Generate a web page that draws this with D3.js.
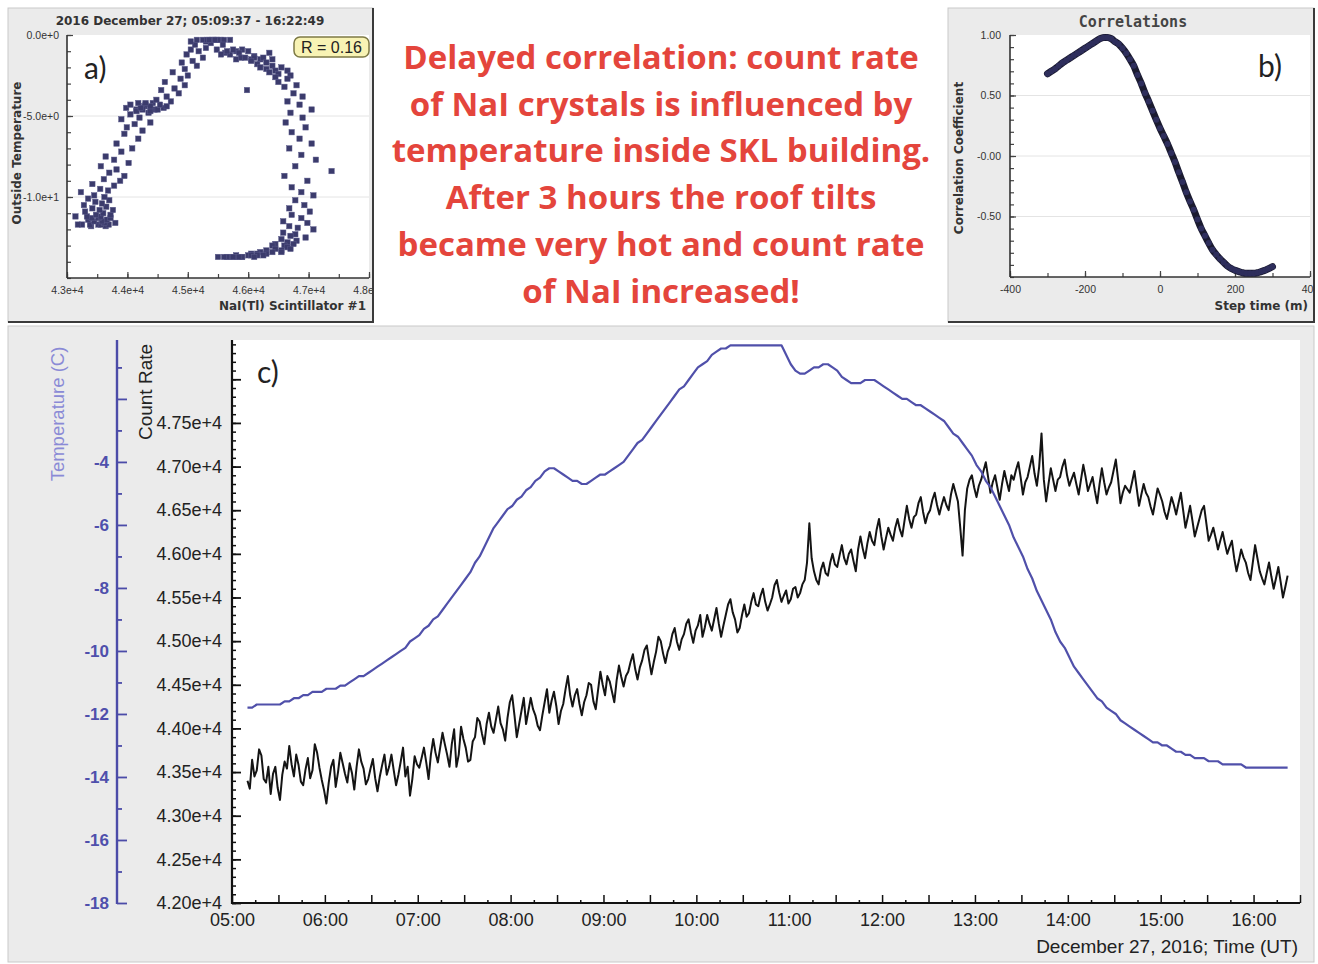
<!DOCTYPE html>
<html>
<head>
<meta charset="utf-8">
<script src="https://cdn.jsdelivr.net/npm/d3@7"></script>
<style>
  html, body { margin: 0; padding: 0; background: #ffffff; }
  svg { display: block; }
</style>
</head>
<body>
<svg id="fig" width="1318" height="964"></svg>
<script>
// ---------------------------------------------------------------------------
// NaI(Tl) scintillator count rate and outside temperature, 27 Dec 2016 (UT).
// Count rate every 1.5 minutes, temperature every 3 minutes, from 05:10.
// ---------------------------------------------------------------------------
const sampleStart = 10;     // minutes after 05:00 UT
const countStep = 1.5;      // minutes between count-rate samples
const tempStep = 3;         // minutes between temperature samples

const countRate = [
  43400, 43310, 43640, 43450, 43520, 43760, 43690, 43420, 43380, 43560, 43250, 43480, 43560, 43320, 43180, 43470, 43620, 43540, 43800, 43590,
  43450, 43700, 43580, 43390, 43350, 43530, 43660, 43430, 43520, 43820, 43720, 43550, 43410, 43290, 43140, 43380, 43560, 43640, 43330, 43500,
  43720, 43600, 43480, 43380, 43600, 43490, 43300, 43560, 43760, 43620, 43540, 43360, 43420, 43540, 43650, 43430, 43280, 43450, 43580, 43700,
  43470, 43560, 43700, 43520, 43350, 43470, 43620, 43780, 43450, 43560, 43230, 43420, 43680, 43590, 43550, 43660, 43780, 43610, 43420, 43700,
  43880, 43720, 43610, 43780, 43950, 43820, 43700, 43560, 43820, 43990, 43560, 43700, 44020, 43880, 43780, 43620, 43640, 43850, 43900, 44120,
  44080, 43940, 43820, 44050, 44180, 44020, 43950, 44100, 44250, 44060, 43990, 43860, 44120, 44300, 44380, 44150, 43900, 44050, 44200, 44350,
  44050, 44200, 44350, 44220, 44150, 44030, 43980, 44150, 44300, 44450, 44180, 44320, 44420, 44260, 44050, 44200, 44280, 44450, 44600, 44380,
  44250, 44380, 44450, 44280, 44150, 44300, 44380, 44520, 44500, 44310, 44220, 44440, 44650, 44500, 44380, 44600, 44540, 44420, 44300, 44550,
  44720, 44590, 44480, 44600, 44650, 44760, 44850, 44680, 44560, 44700, 44780, 44900, 44950, 44780, 44620, 44760, 44880, 45050, 45000, 44860,
  44750, 44880, 44950, 45080, 45150, 44990, 44900, 45020, 45080, 45200, 45250, 45100, 44980, 45120, 45180, 45300, 45050, 45160, 45300, 45200,
  45120, 45250, 45380, 45200, 45050, 45180, 45300, 45420, 45480, 45330, 45250, 45100, 45150, 45300, 45420, 45280, 45320, 45450, 45550, 45420,
  45400, 45520, 45600, 45450, 45350, 45420, 45500, 45640, 45700, 45560, 45450, 45520, 45580, 45430, 45480, 45600, 45620, 45500, 45550, 45650,
  45700, 45900, 46350, 45950, 45800, 45700, 45650, 45820, 45900, 45780, 45750, 45900, 46000, 45880, 45850, 45980, 46100, 45950, 45880, 46000,
  46050, 45920, 45800, 46050, 46200, 46060, 45950, 46120, 46250, 46150, 46100, 46280, 46400, 46200, 46050, 46180, 46300, 46220, 46150, 46300,
  46400, 46280, 46200, 46380, 46550, 46400, 46300, 46420, 46450, 46580, 46650, 46480, 46350, 46450, 46500, 46620, 46700, 46560, 46450, 46560,
  46650, 46560, 46500, 46680, 46800, 46700, 46600, 46300, 45980, 46500, 46750, 46850, 46900, 46760, 46650, 46780, 46850, 46950, 47050, 46880,
  46700, 46820, 46900, 46760, 46620, 46800, 46950, 46830, 46720, 46900, 46850, 46960, 47050, 46880, 46680, 46820, 46880, 47000, 47120, 46920,
  46780, 47000, 47380, 46850, 46600, 46800, 46980, 46850, 46720, 46850, 46880, 47000, 47080, 46900, 46780, 46860, 46930, 46800, 46680, 46850,
  47020, 46880, 46720, 46800, 46880, 46720, 46580, 46800, 46980, 46820, 46680, 46760, 46820, 46950, 47080, 46850, 46580, 46700, 46780, 46740,
  46700, 46820, 46950, 46750, 46550, 46680, 46800, 46700, 46650, 46540, 46450, 46600, 46750, 46680, 46600, 46480, 46400, 46520, 46650, 46560,
  46450, 46580, 46700, 46500, 46300, 46420, 46550, 46380, 46200, 46300, 46400, 46500, 46550, 46350, 46150, 46220, 46300, 46180, 46050, 46150,
  46250, 46120, 46000, 46080, 46150, 45950, 45800, 45920, 46050, 45960, 45900, 45780, 45700, 45900, 46100, 45950, 45800, 45720, 45650, 45780,
  45900, 45740, 45600, 45720, 45850, 45680, 45500, 45620, 45750
];

const temperature = [
  -11.8, -11.8, -11.7, -11.7, -11.7, -11.7, -11.7, -11.7, -11.6, -11.6,
  -11.5, -11.5, -11.4, -11.4, -11.3, -11.3, -11.3, -11.2, -11.2, -11.2,
  -11.1, -11.1, -11.0, -10.9, -10.8, -10.8, -10.7, -10.6, -10.5, -10.4,
  -10.3, -10.2, -10.1, -10.0, -9.9, -9.7, -9.6, -9.5, -9.3, -9.2,
  -9.0, -8.9, -8.7, -8.5, -8.3, -8.1, -7.9, -7.7, -7.5, -7.2,
  -7.0, -6.7, -6.4, -6.1, -5.9, -5.7, -5.5, -5.4, -5.2, -5.1,
  -4.9, -4.8, -4.6, -4.5, -4.3, -4.2, -4.2, -4.3, -4.4, -4.5,
  -4.6, -4.6, -4.7, -4.7, -4.6, -4.5, -4.4, -4.4, -4.3, -4.2,
  -4.1, -4.0, -3.8, -3.6, -3.4, -3.3, -3.1, -2.9, -2.7, -2.5,
  -2.3, -2.1, -1.9, -1.7, -1.6, -1.4, -1.2, -1.0, -0.9, -0.8,
  -0.6, -0.5, -0.4, -0.4, -0.3, -0.3, -0.3, -0.3, -0.3, -0.3,
  -0.3, -0.3, -0.3, -0.3, -0.3, -0.3, -0.6, -0.9, -1.1, -1.2,
  -1.2, -1.1, -1.0, -1.0, -0.9, -0.9, -1.0, -1.1, -1.3, -1.4,
  -1.5, -1.5, -1.5, -1.4, -1.4, -1.4, -1.5, -1.6, -1.7, -1.8,
  -1.9, -2.0, -2.0, -2.1, -2.2, -2.2, -2.3, -2.4, -2.5, -2.6,
  -2.7, -2.9, -3.1, -3.2, -3.4, -3.6, -3.8, -4.1, -4.3, -4.6,
  -4.8, -5.1, -5.4, -5.7, -6.0, -6.4, -6.7, -7.0, -7.4, -7.7,
  -8.1, -8.4, -8.7, -9.0, -9.4, -9.7, -9.9, -10.2, -10.5, -10.7,
  -10.9, -11.1, -11.3, -11.5, -11.6, -11.8, -11.9, -12.0, -12.2, -12.3,
  -12.4, -12.5, -12.6, -12.7, -12.8, -12.9, -12.9, -13.0, -13.0, -13.1,
  -13.2, -13.2, -13.3, -13.3, -13.4, -13.4, -13.4, -13.5, -13.5, -13.5,
  -13.6, -13.6, -13.6, -13.6, -13.6, -13.7, -13.7, -13.7, -13.7, -13.7,
  -13.7, -13.7, -13.7, -13.7, -13.7
];

// Lagged correlation between count rate and temperature (lag step 10 min)
const lagMinutes = d3.range(-300, 301, 10);
const correlation = [
  0.68, 0.70, 0.72, 0.745, 0.77, 0.79, 0.81, 0.83, 0.85, 0.87, 0.89, 0.91, 0.93, 0.95, 0.97,
  0.98, 0.98, 0.97, 0.945, 0.925, 0.89, 0.85, 0.80, 0.745, 0.67, 0.60, 0.52, 0.45, 0.375, 0.30,
  0.23, 0.165, 0.10, 0.025, -0.05, -0.135, -0.215, -0.30, -0.375, -0.445, -0.525, -0.60, -0.66, -0.72, -0.775,
  -0.815, -0.85, -0.88, -0.91, -0.93, -0.945, -0.955, -0.965, -0.97, -0.97, -0.97, -0.965, -0.955, -0.945, -0.93, -0.915
];
const correlationR = "R = 0.16";

// Tick values and labels
const hourLabels = ["05:00", "06:00", "07:00", "08:00", "09:00", "10:00", "11:00",
                    "12:00", "13:00", "14:00", "15:00", "16:00"];
const countTickValues = [42000, 42500, 43000, 43500, 44000, 44500, 45000, 45500, 46000, 46500, 47000, 47500, 48000];
const countTickLabels = ["4.20e+4", "4.25e+4", "4.30e+4", "4.35e+4", "4.40e+4", "4.45e+4", "4.50e+4",
                         "4.55e+4", "4.60e+4", "4.65e+4", "4.70e+4", "4.75e+4", ""];
const tempTickValues = [-18, -16, -14, -12, -10, -8, -6, -4, -2];
const tempTickLabels = ["-18", "-16", "-14", "-12", "-10", "-8", "-6", "-4", ""];
const scatterXTicks = [43000, 44000, 45000, 46000, 47000, 48000];
const scatterXLabels = ["4.3e+4", "4.4e+4", "4.5e+4", "4.6e+4", "4.7e+4", "4.8e+4"];
const scatterYTicks = [0, -5, -10];
const scatterYLabels = ["0.0e+0", "-5.0e+0", "-1.0e+1"];
const corrXTicks = [-400, -200, 0, 200, 400];
const corrXLabels = ["-400", "-200", "0", "200", "400"];
const corrYTicks = [1, 0.5, 0, -0.5];
const corrYLabels = ["1.00", "0.50", "-0.00", "-0.50"];

const noteLines = [
  "Delayed correlation: count rate",
  "of NaI crystals is influenced by",
  "temperature inside SKL building.",
  "After 3 hours the roof tilts",
  "became very hot and count rate",
  "of NaI increased!"
];

// ---------------------------------------------------------------------------
const countSeries = countRate.map((c, i) => ({ m: sampleStart + i * countStep, c: c }));
const tempSeries = temperature.map((t, i) => ({ m: sampleStart + i * tempStep, t: t }));
// scatter pairs: temperature with the count-rate sample taken at the same time
const pairs = temperature.map((t, i) => ({ c: countRate[i * (tempStep / countStep)], t: t }));

const svg = d3.select("#fig");
const SANS = "'Liberation Sans', Arial, sans-serif";
const DIALOG = "'DejaVu Sans', Verdana, sans-serif";
const PANEL_BG = "#ebebeb";

function labelAxis(g, o) {
  g.select(".domain").remove();
  g.selectAll(".tick line").attr("stroke", o.stroke).attr("stroke-width", o.width || 1);
  g.selectAll(".tick text")
    .attr("fill", o.fill || o.stroke)
    .attr("font-size", o.size || 10)
    .attr("font-family", o.family || SANS)
    .attr("font-weight", o.weight || "normal");
}

function panelFrame(x, y, w, h) {
  svg.append("rect").attr("x", x).attr("y", y).attr("width", w).attr("height", h)
    .attr("fill", PANEL_BG).attr("stroke", "#c9c9c9").attr("stroke-width", 1);
}

// ======================= Panel a: scatter ================================
panelFrame(8, 8, 365, 314);
svg.append("defs").append("clipPath").attr("id", "clipA")
  .append("rect").attr("x", 8).attr("y", 8).attr("width", 364).attr("height", 314);
const pa = svg.append("g").attr("clip-path", "url(#clipA)");

const ax = d3.scaleLinear().domain([43000, 48000]).range([67, 369]);
const ay = d3.scaleLinear().domain([-15, 0]).range([278, 35]);

pa.append("rect").attr("x", ax(43000)).attr("y", ay(0))
  .attr("width", ax(48000) - ax(43000)).attr("height", ay(-15) - ay(0)).attr("fill", "#ffffff");

pa.append("g").selectAll("line").data([-5, -10]).join("line")
  .attr("x1", ax(43000)).attr("x2", ax(48000)).attr("y1", d => ay(d)).attr("y2", d => ay(d))
  .attr("stroke", "#e4e4e4").attr("stroke-width", 1);

pa.append("g").attr("transform", `translate(0,${ay(-15)})`)
  .call(d3.axisBottom(ax).tickValues(d3.range(43000, 48001, 500)).tickSize(-4).tickFormat(""))
  .call(g => labelAxis(g, { stroke: "#444", width: 1.2 }));
pa.append("g").attr("transform", `translate(${ax(43000)},0)`)
  .call(d3.axisLeft(ay).tickValues(d3.range(-15, 0.5, 1)).tickSize(-4).tickFormat(""))
  .call(g => labelAxis(g, { stroke: "#444", width: 1.2 }));
pa.append("g").attr("transform", `translate(0,${ay(-15)})`)
  .call(d3.axisBottom(ax).tickValues(scatterXTicks).tickSize(-6).tickPadding(9)
    .tickFormat((d, i) => scatterXLabels[i]))
  .call(g => labelAxis(g, { stroke: "#444", fill: "#333", size: 10.5, width: 1.2 }));
pa.append("g").attr("transform", `translate(${ax(43000)},0)`)
  .call(d3.axisLeft(ay).tickValues(scatterYTicks).tickSize(-6).tickPadding(8)
    .tickFormat((d, i) => scatterYLabels[i]))
  .call(g => labelAxis(g, { stroke: "#444", fill: "#333", size: 10.5, width: 1.2 }));

pa.append("line").attr("x1", ax(43000)).attr("x2", ax(43000)).attr("y1", ay(0)).attr("y2", ay(-15))
  .attr("stroke", "#333").attr("stroke-width", 1.6);
pa.append("line").attr("x1", ax(43000)).attr("x2", ax(48000)).attr("y1", ay(-15)).attr("y2", ay(-15))
  .attr("stroke", "#333").attr("stroke-width", 1.6);

pa.append("g").selectAll("rect").data(pairs).join("rect")
  .attr("x", d => ax(d.c) - 2.7).attr("y", d => ay(d.t) - 2.7)
  .attr("width", 5.4).attr("height", 5.4)
  .attr("fill", "#3b3b6c").attr("stroke", "#5a5a8a").attr("stroke-width", 0.5);

pa.append("text").attr("x", 190).attr("y", 25).attr("text-anchor", "middle")
  .attr("font-family", DIALOG).attr("font-weight", "bold").attr("font-size", 12).attr("fill", "#333")
  .text("2016 December 27; 05:09:37 - 16:22:49");
pa.append("text").attr("transform", "translate(21,153) rotate(-90)").attr("text-anchor", "middle")
  .attr("font-family", DIALOG).attr("font-weight", "bold").attr("font-size", 12).attr("fill", "#333")
  .text("Outside Temperature");
pa.append("text").attr("x", 366).attr("y", 310).attr("text-anchor", "end")
  .attr("font-family", DIALOG).attr("font-weight", "bold").attr("font-size", 12).attr("fill", "#333")
  .text("NaI(Tl) Scintillator #1");

pa.append("rect").attr("x", 294).attr("y", 37).attr("width", 75).attr("height", 20).attr("rx", 6)
  .attr("fill", "#f8f3b4").attr("stroke", "#7d7a45").attr("stroke-width", 1.5);
pa.append("text").attr("x", 331.5).attr("y", 53).attr("text-anchor", "middle")
  .attr("font-family", SANS).attr("font-size", 16).attr("fill", "#222").text(correlationR);

pa.append("text").attr("x", 84).attr("y", 79).attr("font-family", "Lato, 'Open Sans', sans-serif")
  .attr("font-size", 30).attr("fill", "#222").text("a)");

svg.append("line").attr("x1", 8).attr("x2", 374).attr("y1", 322).attr("y2", 322)
  .attr("stroke", "#3a3a3a").attr("stroke-width", 2);
svg.append("line").attr("x1", 373).attr("x2", 373).attr("y1", 8).attr("y2", 323)
  .attr("stroke", "#3a3a3a").attr("stroke-width", 2);

// ======================= Panel b: correlation vs lag =====================
panelFrame(948, 8, 366, 314);
svg.select("defs").append("clipPath").attr("id", "clipB")
  .append("rect").attr("x", 948).attr("y", 8).attr("width", 365).attr("height", 314);
const pb = svg.append("g").attr("clip-path", "url(#clipB)");

const bx = d3.scaleLinear().domain([-400, 400]).range([1010, 1310]);
const by = d3.scaleLinear().domain([-1, 1]).range([277, 35]);

pb.append("rect").attr("x", bx(-400)).attr("y", by(1))
  .attr("width", bx(400) - bx(-400)).attr("height", by(-1) - by(1)).attr("fill", "#ffffff");
pb.append("g").selectAll("line").data([0.5, 0, -0.5]).join("line")
  .attr("x1", bx(-400)).attr("x2", bx(400)).attr("y1", d => by(d)).attr("y2", d => by(d))
  .attr("stroke", "#e4e4e4").attr("stroke-width", 1);

pb.append("g").attr("transform", `translate(0,${by(-1)})`)
  .call(d3.axisBottom(bx).tickValues(d3.range(-400, 401, 100)).tickSize(-4).tickFormat(""))
  .call(g => labelAxis(g, { stroke: "#444", width: 1.2 }));
pb.append("g").attr("transform", `translate(${bx(-400)},0)`)
  .call(d3.axisLeft(by).tickValues(d3.range(-10, 11, 1).map(v => v / 10)).tickSize(-4).tickFormat(""))
  .call(g => labelAxis(g, { stroke: "#444", width: 1.2 }));
pb.append("g").attr("transform", `translate(0,${by(-1)})`)
  .call(d3.axisBottom(bx).tickValues(corrXTicks).tickSize(-6).tickPadding(9)
    .tickFormat((d, i) => corrXLabels[i]))
  .call(g => labelAxis(g, { stroke: "#444", fill: "#333", size: 10.5, width: 1.2 }));
pb.append("g").attr("transform", `translate(${bx(-400)},0)`)
  .call(d3.axisLeft(by).tickValues(corrYTicks).tickSize(-6).tickPadding(9)
    .tickFormat((d, i) => corrYLabels[i]))
  .call(g => labelAxis(g, { stroke: "#444", fill: "#333", size: 10.5, width: 1.2 }));

pb.append("line").attr("x1", bx(-400)).attr("x2", bx(-400)).attr("y1", by(1)).attr("y2", by(-1))
  .attr("stroke", "#333").attr("stroke-width", 1.6);
pb.append("line").attr("x1", bx(-400)).attr("x2", bx(400)).attr("y1", by(-1)).attr("y2", by(-1))
  .attr("stroke", "#333").attr("stroke-width", 1.6);

const corrPts = lagMinutes.map((m, i) => ({ m: m, r: correlation[i] }));
pb.append("path").datum(corrPts)
  .attr("d", d3.line().x(d => bx(d.m)).y(d => by(d.r)).curve(d3.curveMonotoneX))
  .attr("fill", "none").attr("stroke", "#1b1b30").attr("stroke-width", 7).attr("stroke-linecap", "round");
pb.append("g").selectAll("circle").data(corrPts).join("circle")
  .attr("cx", d => bx(d.m)).attr("cy", d => by(d.r)).attr("r", 3)
  .attr("fill", "#2e2e5c");

pb.append("text").attr("x", 1133).attr("y", 27).attr("text-anchor", "middle")
  .attr("font-family", "'DejaVu Sans Mono', monospace").attr("font-weight", "bold")
  .attr("font-size", 15).attr("fill", "#444").text("Correlations");
pb.append("text").attr("transform", "translate(963,158) rotate(-90)").attr("text-anchor", "middle")
  .attr("font-family", DIALOG).attr("font-weight", "bold").attr("font-size", 12).attr("fill", "#333")
  .text("Correlation Coefficient");
pb.append("text").attr("x", 1308).attr("y", 310).attr("text-anchor", "end")
  .attr("font-family", DIALOG).attr("font-weight", "bold").attr("font-size", 12).attr("fill", "#333")
  .text("Step time (m)");
pb.append("text").attr("x", 1258).attr("y", 77).attr("font-family", "Lato, 'Open Sans', sans-serif")
  .attr("font-size", 30).attr("fill", "#222").text("b)");

svg.append("line").attr("x1", 948).attr("x2", 1315).attr("y1", 322).attr("y2", 322)
  .attr("stroke", "#3a3a3a").attr("stroke-width", 2);
svg.append("line").attr("x1", 1314).attr("x2", 1314).attr("y1", 8).attr("y2", 323)
  .attr("stroke", "#3a3a3a").attr("stroke-width", 2);

// ======================= Note text =======================================
svg.append("g").selectAll("text").data(noteLines).join("text")
  .attr("x", 661).attr("y", (d, i) => 69 + i * 46.7).attr("text-anchor", "middle")
  .attr("font-family", "'Open Sans', Lato, sans-serif").attr("font-weight", "bold")
  .attr("font-size", 33).attr("fill", "#e4453c").text(d => d);

// ======================= Panel c: time series ============================
panelFrame(8, 326, 1306, 636);

const cx = d3.scaleLinear().domain([0, 690]).range([232, 1300]);
const cyCount = d3.scaleLinear().domain([42000, 48450]).range([903, 340]);
const cyTemp = d3.scaleLinear().domain([-18, -0.13]).range([903, 340]);

svg.append("rect").attr("x", cx(0)).attr("y", cyCount(48450))
  .attr("width", cx(690) - cx(0)).attr("height", cyCount(42000) - cyCount(48450)).attr("fill", "#ffffff");

// count-rate axis
svg.append("g").attr("transform", `translate(${cx(0)},0)`)
  .call(d3.axisLeft(cyCount).tickValues(d3.range(42000, 48401, 100)).tickSize(-4).tickFormat(""))
  .call(g => labelAxis(g, { stroke: "#111", width: 1.5 }));
svg.append("g").attr("transform", `translate(${cx(0)},0)`)
  .call(d3.axisLeft(cyCount).tickValues(countTickValues).tickSize(-9).tickPadding(10)
    .tickFormat((d, i) => countTickLabels[i]))
  .call(g => labelAxis(g, { stroke: "#111", fill: "#222", size: 18, width: 1.8 }));
svg.append("line").attr("x1", cx(0)).attr("x2", cx(0)).attr("y1", 340).attr("y2", 904)
  .attr("stroke", "#111").attr("stroke-width", 2.2);

// time axis
svg.append("g").attr("transform", `translate(0,${cyCount(42000)})`)
  .call(d3.axisBottom(cx).tickValues(d3.range(15, 691, 30)).tickSize(-3).tickFormat(""))
  .call(g => labelAxis(g, { stroke: "#111", width: 1.5 }));
svg.append("g").attr("transform", `translate(0,${cyCount(42000)})`)
  .call(d3.axisBottom(cx).tickValues(d3.range(0, 691, 30)).tickSize(-8).tickPadding(10)
    .tickFormat(m => (m % 60 === 0 ? hourLabels[m / 60] || "" : "")))
  .call(g => labelAxis(g, { stroke: "#111", fill: "#222", size: 18, width: 1.5 }));
svg.append("line").attr("x1", cx(0)).attr("x2", cx(690)).attr("y1", 903).attr("y2", 903)
  .attr("stroke", "#111").attr("stroke-width", 2.2);

// temperature axis
const tempAxisX = 117;
svg.append("g").attr("transform", `translate(${tempAxisX},0)`)
  .call(d3.axisLeft(cyTemp).tickValues(d3.range(-17, 0, 2)).tickSize(-5).tickFormat(""))
  .call(g => labelAxis(g, { stroke: "#4b4ba8", width: 1.8 }));
svg.append("g").attr("transform", `translate(${tempAxisX},0)`)
  .call(d3.axisLeft(cyTemp).tickValues(tempTickValues).tickSize(-10).tickPadding(8)
    .tickFormat((d, i) => tempTickLabels[i]))
  .call(g => labelAxis(g, { stroke: "#4b4ba8", fill: "#4f4fac", size: 17, width: 1.8, weight: "bold" }));
svg.append("line").attr("x1", tempAxisX).attr("x2", tempAxisX).attr("y1", 340).attr("y2", 904)
  .attr("stroke", "#4b4ba8").attr("stroke-width", 2.4);

// series
svg.append("path").datum(countSeries)
  .attr("d", d3.line().x(d => cx(d.m)).y(d => cyCount(d.c)))
  .attr("fill", "none").attr("stroke", "#141414").attr("stroke-width", 2).attr("stroke-linejoin", "round");
svg.append("path").datum(tempSeries)
  .attr("d", d3.line().x(d => cx(d.m)).y(d => cyTemp(d.t)))
  .attr("fill", "none").attr("stroke", "#5050aa").attr("stroke-width", 2.2).attr("stroke-linejoin", "round");

// titles
svg.append("text").attr("transform", "translate(64,414) rotate(-90)").attr("text-anchor", "middle")
  .attr("font-family", SANS).attr("font-size", 18.5).attr("fill", "#8a8ad6").text("Temperature (C)");
svg.append("text").attr("transform", "translate(152,392) rotate(-90)").attr("text-anchor", "middle")
  .attr("font-family", SANS).attr("font-size", 19).attr("fill", "#222").text("Count Rate");
svg.append("text").attr("x", 1298).attr("y", 953).attr("text-anchor", "end")
  .attr("font-family", SANS).attr("font-size", 19).attr("fill", "#222").text("December 27, 2016; Time (UT)");
svg.append("text").attr("x", 257).attr("y", 383).attr("font-family", "Lato, 'Open Sans', sans-serif")
  .attr("font-size", 30).attr("fill", "#222").text("c)");
</script>
</body>
</html>
